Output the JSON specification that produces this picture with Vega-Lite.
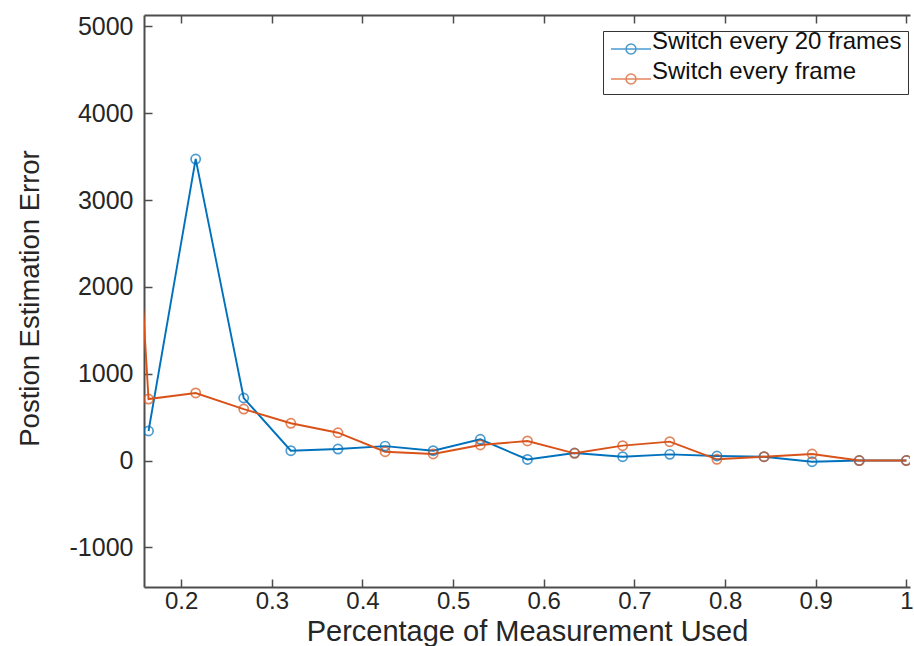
{
  "$schema": "https://vega.github.io/schema/vega-lite/v6.json",
  "width": 766,
  "height": 572,
  "autosize": "none",
  "padding": {"left": 144, "top": 15, "right": 4, "bottom": 59},
  "background": "white",
  "config": {
    "view": {"stroke": null},
    "font": "Liberation Sans",
    "axis": {
      "grid": false,
      "domainColor": "#4d4d4d",
      "domainWidth": 2,
      "tickColor": "#4d4d4d",
      "tickWidth": 1.5,
      "tickSize": -8,
      "labelFont": "Liberation Sans",
      "labelFontSize": 24,
      "labelColor": "#262626",
      "titleFont": "Liberation Sans",
      "titleFontSize": 27,
      "titleFontWeight": "normal",
      "titleColor": "#262626"
    }
  },
  "data": {
    "values": [
      {"x": 0.164, "error": 340, "series": "Switch every 20 frames"},
      {"x": 0.216, "error": 3473, "series": "Switch every 20 frames"},
      {"x": 0.269, "error": 720, "series": "Switch every 20 frames"},
      {"x": 0.321, "error": 113, "series": "Switch every 20 frames"},
      {"x": 0.373, "error": 132, "series": "Switch every 20 frames"},
      {"x": 0.425, "error": 166, "series": "Switch every 20 frames"},
      {"x": 0.478, "error": 113, "series": "Switch every 20 frames"},
      {"x": 0.530, "error": 244, "series": "Switch every 20 frames"},
      {"x": 0.582, "error": 12, "series": "Switch every 20 frames"},
      {"x": 0.634, "error": 86, "series": "Switch every 20 frames"},
      {"x": 0.687, "error": 44, "series": "Switch every 20 frames"},
      {"x": 0.739, "error": 71, "series": "Switch every 20 frames"},
      {"x": 0.791, "error": 52, "series": "Switch every 20 frames"},
      {"x": 0.843, "error": 44, "series": "Switch every 20 frames"},
      {"x": 0.896, "error": -14, "series": "Switch every 20 frames"},
      {"x": 0.948, "error": 0, "series": "Switch every 20 frames"},
      {"x": 1.0, "error": 0, "series": "Switch every 20 frames"},
      {"x": 0.112, "error": 9900, "series": "Switch every frame"},
      {"x": 0.164, "error": 708, "series": "Switch every frame"},
      {"x": 0.216, "error": 778, "series": "Switch every frame"},
      {"x": 0.269, "error": 593, "series": "Switch every frame"},
      {"x": 0.321, "error": 429, "series": "Switch every frame"},
      {"x": 0.373, "error": 320, "series": "Switch every frame"},
      {"x": 0.425, "error": 101, "series": "Switch every frame"},
      {"x": 0.478, "error": 75, "series": "Switch every frame"},
      {"x": 0.530, "error": 179, "series": "Switch every frame"},
      {"x": 0.582, "error": 225, "series": "Switch every frame"},
      {"x": 0.634, "error": 83, "series": "Switch every frame"},
      {"x": 0.687, "error": 171, "series": "Switch every frame"},
      {"x": 0.739, "error": 217, "series": "Switch every frame"},
      {"x": 0.791, "error": 14, "series": "Switch every frame"},
      {"x": 0.843, "error": 44, "series": "Switch every frame"},
      {"x": 0.896, "error": 75, "series": "Switch every frame"},
      {"x": 0.948, "error": 0, "series": "Switch every frame"},
      {"x": 1.0, "error": 0, "series": "Switch every frame"}
    ]
  },
  "resolve": {"axis": {"x": "independent", "y": "independent"}},
  "layer": [
    {
      "mark": {"type": "line", "clip": true, "strokeWidth": 1.9},
      "encoding": {
        "x": {
          "field": "x", "type": "quantitative",
          "scale": {"domain": [0.159, 1.004], "nice": false, "zero": false},
          "axis": {
            "orient": "bottom",
            "title": "Percentage of Measurement Used",
            "titleFontSize": 29,
            "values": [0.2, 0.3, 0.4, 0.5, 0.6, 0.7, 0.8, 0.9, 1],
            "labelExpr": "datum.value + ''",
            "labelPadding": 10,
            "titleBaseline": "alphabetic",
            "titleY": 53
          }
        },
        "y": {
          "field": "error", "type": "quantitative",
          "scale": {"domain": [-1457, 5132], "nice": false, "zero": false},
          "axis": {
            "title": "Postion Estimation Error",
            "titleFontSize": 27.5,
            "values": [-1000, 0, 1000, 2000, 3000, 4000, 5000],
            "labelExpr": "datum.value + ''",
            "labelFontSize": 25,
            "labelPadding": 19,
            "titleX": -100,
            "titleY": 283,
            "titleBaseline": "bottom"
          }
        },
        "color": {
          "field": "series", "type": "nominal",
          "scale": {"domain": ["Switch every 20 frames", "Switch every frame"], "range": ["#0072BD", "#D95319"]},
          "legend": {
            "orient": "none", "legendX": 459, "legendY": 16, "title": null,
            "symbolType": "M-1,0L3,0M0.5,0A0.5,0.5,0,1,1,1.5,0A0.5,0.5,0,1,1,0.5,0",
            "symbolSize": 400, "symbolStrokeWidth": 1.6, "symbolFillColor": "transparent",
            "labelFont": "Liberation Sans", "labelFontSize": 24, "labelColor": "#111111",
            "labelOffset": 19, "labelBaseline": "alphabetic", "labelLimit": 400,
            "padding": 6, "strokeColor": "#333333", "fillColor": "white", "rowPadding": 2
          }
        }
      }
    },
    {
      "mark": {"type": "point", "clip": true, "filled": false, "size": 85, "strokeWidth": 1.7},
      "encoding": {
        "x": {
          "field": "x", "type": "quantitative",
          "axis": {"orient": "top", "title": null, "labels": false, "values": [0.2, 0.3, 0.4, 0.5, 0.6, 0.7, 0.8, 0.9, 1]}
        },
        "y": {"field": "error", "type": "quantitative", "axis": null},
        "color": {
          "field": "series", "type": "nominal",
          "legend": {
            "orient": "none", "legendX": 459, "legendY": 16, "title": null,
            "symbolType": "M-1,0L3,0M0.5,0A0.5,0.5,0,1,1,1.5,0A0.5,0.5,0,1,1,0.5,0",
            "symbolSize": 400, "symbolStrokeWidth": 1.6, "symbolFillColor": "transparent",
            "labelFont": "Liberation Sans", "labelFontSize": 24, "labelColor": "#111111",
            "labelOffset": 19, "labelBaseline": "alphabetic", "labelLimit": 400,
            "padding": 6, "strokeColor": "#333333", "fillColor": "white", "rowPadding": 2
          }
        }
      }
    }
  ]
}
